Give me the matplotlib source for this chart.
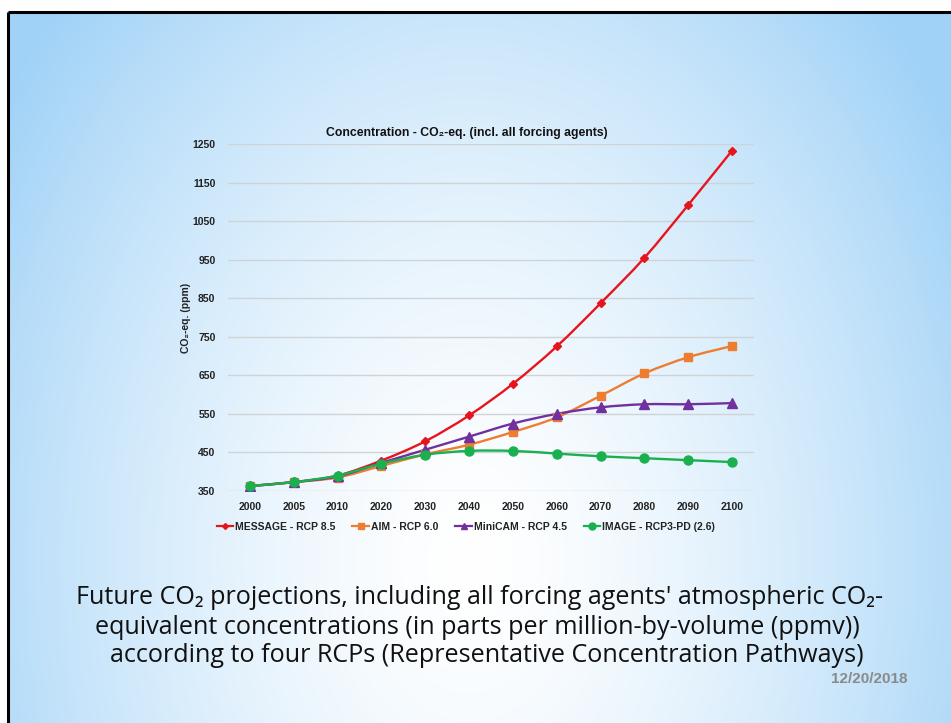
import numpy as np
import matplotlib
matplotlib.use("Agg")
import matplotlib.pyplot as plt
from matplotlib.path import Path
from matplotlib.patches import PathPatch
from matplotlib.lines import Line2D

# ---------------- data ----------------
years = ["2000", "2005", "2010", "2020", "2030", "2040", "2050", "2060", "2070", "2080", "2090", "2100"]
message_rcp85 = [363, 373, 390, 429, 479, 546, 628, 725, 837, 955, 1092, 1233]
aim_rcp60 = [363, 373, 385, 415, 445, 470, 503, 541, 597, 655, 697, 726]
minicam_rcp45 = [363, 373, 388, 423, 457, 491, 525, 550, 567, 575, 575, 578]
image_rcp26 = [363, 373, 390, 421, 444, 454, 454, 447, 440, 435, 430, 425]
series_names = ["MESSAGE - RCP 8.5", "AIM - RCP 6.0", "MiniCAM - RCP 4.5", "IMAGE - RCP3-PD (2.6)"]
yticks = [350, 450, 550, 650, 750, 850, 950, 1050, 1150, 1250]

W, H = 951, 723
fig = plt.figure(figsize=(W / 100, H / 100), dpi=100)

# ---------------- background ----------------
bg = fig.add_axes([0, 0, 1, 1], zorder=-10)
yy, xx = np.mgrid[0:H, 0:W]
r = np.sqrt(((xx - 470) / 600.0) ** 2 + ((yy - 560) / 850.0) ** 2)
t = np.clip(r / 0.95, 0, 1) ** 1.5
edge = np.array([160, 210, 247]) / 255.0
img = (1 - t[..., None]) * np.array([1.0, 1.0, 1.0]) + t[..., None] * edge
img[:12, :, :] = 1.0
img[:, :8, :] = 1.0
bg.imshow(img, extent=[0, W, H, 0], aspect="auto", interpolation="bilinear")
bg.plot([8, 8], [12, H], color="black", lw=2.2, solid_capstyle="butt")
bg.plot([8, W], [12, 12], color="black", lw=2.2, solid_capstyle="butt")
bg.set_xlim(0, W)
bg.set_ylim(H, 0)
bg.axis("off")

# ---------------- chart ----------------
ax = fig.add_axes([228 / W, 1 - 491 / H, (754 - 228) / W, (491 - 144) / H])
ax.set_facecolor("none")
x = np.arange(len(years))
ax.set_xlim(-0.5, len(years) - 0.5)
ax.set_ylim(350, 1250)
ax.set_yticks(yticks)
ax.set_xticks(x)
ax.set_xticklabels(years)
for s in ax.spines.values():
    s.set_visible(False)
ax.grid(axis="y", color="#cfd3d6", lw=1.0)
ax.set_axisbelow(True)
ax.tick_params(length=0, labelsize=7.5, pad=9, labelcolor="#222222")
for lab in ax.get_xticklabels() + ax.get_yticklabels():
    lab.set_fontfamily("Liberation Sans")
    lab.set_fontweight("bold")
ax.tick_params(axis="x", pad=8)


def smooth_path(xs, ys):
    pts = np.column_stack([xs, ys]).astype(float)
    n = len(pts)
    verts = [pts[0]]
    codes = [Path.MOVETO]
    for i in range(n - 1):
        p0 = pts[i - 1] if i > 0 else pts[i]
        p1 = pts[i]
        p2 = pts[i + 1]
        p3 = pts[i + 2] if i + 2 < n else pts[i + 1]
        c1 = p1 + (p2 - p0) / 6.0
        c2 = p2 - (p3 - p1) / 6.0
        verts += [c1, c2, p2]
        codes += [Path.CURVE4] * 3
    return Path(verts, codes)


styles = [
    (message_rcp85, "#e8141c", "D", 4.5),
    (aim_rcp60, "#ed7d31", "s", 6),
    (minicam_rcp45, "#7030a0", "^", 6.5),
    (image_rcp26, "#1ab04f", "o", 6.5),
]
handles = []
for (vals, col, mk, ms), name in zip(styles, series_names):
    ax.add_patch(PathPatch(smooth_path(x, vals), facecolor="none", edgecolor=col, lw=1.7, zorder=3))
    ax.plot(x, vals, ls="none", marker=mk, ms=ms, color=col, zorder=4)
    handles.append(Line2D([], [], color=col, lw=1.6, marker=mk, ms=ms - 1.5, label=name))

fig.text(467 / W, 1 - 133 / H, "Concentration - CO₂-eq. (incl. all forcing agents)", fontsize=8.8,
         fontweight="bold", family="Liberation Sans", ha="center", va="center", color="#111111")
ax.set_ylabel("CO₂-eq. (ppm)", fontsize=7.5, fontweight="bold", family="Liberation Sans",
              labelpad=1, color="#222222")

leg = fig.legend(handles=handles, loc="center", bbox_to_anchor=(466 / W, 1 - 527 / H), ncol=4,
                 frameon=False, handlelength=1.6, handletextpad=0.2, columnspacing=1.6,
                 prop={"family": "Liberation Sans", "weight": "bold", "size": 7.5})
for txt in leg.get_texts():
    txt.set_color("#222222")

# ---------------- caption ----------------
cap_font = ["Open Sans", "DejaVu Sans"]
cap_size = 18.1
fig.text(480 / W, 1 - 598 / H, "Future CO₂ projections, including all forcing agents' atmospheric CO₂-",
         ha="center", va="center", fontsize=cap_size, family=cap_font, color="#111111")
fig.text(477 / W, 1 - 627 / H, "equivalent concentrations (in parts per million-by-volume (ppmv))",
         ha="center", va="center", fontsize=cap_size, family=cap_font, color="#111111")
fig.text(487 / W, 1 - 656 / H, "according to four RCPs (Representative Concentration Pathways)",
         ha="center", va="center", fontsize=cap_size, family=cap_font, color="#111111")
fig.text(869 / W, 1 - 679 / H, "12/20/2018", ha="center", va="center", fontsize=11,
         fontweight="bold", family="Liberation Sans", color="#8a8a8a")

fig.savefig("out.png", dpi=100)
